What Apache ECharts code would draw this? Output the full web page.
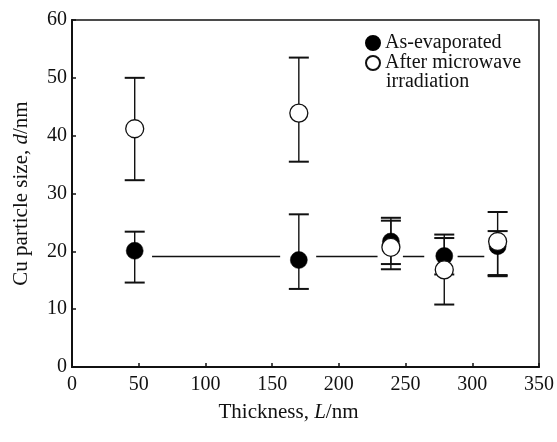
<!DOCTYPE html>
<html>
<head>
<meta charset="utf-8">
<script src="https://cdn.jsdelivr.net/npm/echarts@6/dist/echarts.min.js"></script>
<style>
html,body{margin:0;padding:0;background:#fff;}
#chart{width:557px;height:442px;}
</style>
</head>
<body>
<div id="chart"></div>
<script>
// Data
const thickness = [47, 170, 239, 279, 319];
const asEvap = [20.1, 18.5, 21.7, 19.2, 20.9];
const asEvapLow = [14.6, 13.5, 17.8, 16.0, 15.9];
const asEvapHigh = [23.4, 26.4, 25.3, 22.9, 23.5];
const afterMW = [41.2, 43.9, 20.7, 16.8, 21.7];
const afterMWLow = [32.3, 35.5, 16.9, 10.8, 15.7];
const afterMWHigh = [50.0, 53.5, 25.8, 22.3, 26.8];
const meanLineValue = 19.1;
const meanLineSegments = [[60, 156], [183, 229], [248, 264], [289, 309]];
const xTicks = [0, 50, 100, 150, 200, 250, 300, 350];
const yTicks = [0, 10, 20, 30, 40, 50, 60];

const FONT = 'Liberation Serif';
const INK = '#111';

const lineData = [];
meanLineSegments.forEach(function (s, i) {
  if (i > 0) lineData.push([s[0] - 1, '-']);
  lineData.push([s[0], meanLineValue]);
  lineData.push([s[1], meanLineValue]);
});

function errData(lo, hi) {
  return thickness.map(function (x, i) { return [x, lo[i], hi[i]]; });
}
function errRender(params, api) {
  const x = api.value(0);
  const pLo = api.coord([x, api.value(1)]);
  const pHi = api.coord([x, api.value(2)]);
  const hw = 10;
  return {
    type: 'group',
    children: [
      { type: 'line', shape: { x1: pLo[0], y1: pLo[1], x2: pHi[0], y2: pHi[1] }, style: { stroke: INK, lineWidth: 1.4 } },
      { type: 'line', shape: { x1: pLo[0] - hw, y1: pLo[1], x2: pLo[0] + hw, y2: pLo[1] }, style: { stroke: INK, lineWidth: 2 } },
      { type: 'line', shape: { x1: pHi[0] - hw, y1: pHi[1], x2: pHi[0] + hw, y2: pHi[1] }, style: { stroke: INK, lineWidth: 2 } }
    ]
  };
}

const chart = echarts.init(document.getElementById('chart'), null, { renderer: 'canvas' });
chart.setOption({
  backgroundColor: '#fff',
  animation: false,
  textStyle: { fontFamily: FONT, color: INK },
  grid: { left: 72, top: 20, right: 15, bottom: 75, show: true, borderColor: INK, borderWidth: 1.5, backgroundColor: 'transparent' },
  legend: {
    data: ['As-evaporated', 'After microwave irradiation'],
    orient: 'vertical',
    left: 365,
    top: 33,
    itemWidth: 14,
    itemHeight: 14,
    itemGap: 0,
    padding: 0,
    selectedMode: false,
    formatter: function (name) { return name === 'After microwave irradiation' ? 'After microwave' : name; },
    textStyle: { fontFamily: FONT, fontSize: 20, color: INK, lineHeight: 19 }
  },
  graphic: [
    { type: 'text', left: 386, top: 72, style: { text: 'irradiation', font: '20px "Liberation Serif"', fill: INK } }
  ],
  xAxis: {
    type: 'value',
    min: 0, max: 350, interval: 50,
    name: '{n|Thickness, }{i|L}{n|/nm}',
    nameLocation: 'middle',
    nameGap: 35,
    nameTextStyle: {
      padding: [0, 34, 0, 0],
      rich: {
        n: { fontFamily: FONT, fontSize: 21, color: INK },
        i: { fontFamily: FONT, fontSize: 21, color: INK, fontStyle: 'italic' }
      }
    },
    axisLine: { show: true, lineStyle: { color: INK, width: 2 } },
    axisTick: { show: true, inside: true, length: 4, lineStyle: { color: INK, width: 1.5 } },
    axisLabel: { fontFamily: FONT, fontSize: 20, color: INK, margin: 8,
      formatter: function (v) { return xTicks.indexOf(v) >= 0 ? String(v) : ''; } },
    splitLine: { show: false }
  },
  yAxis: {
    type: 'value',
    min: 0, max: 60, interval: 10,
    name: '{n|Cu particle size, }{i|d}{n|/nm}',
    nameLocation: 'middle',
    nameGap: 40,
    nameTextStyle: {
      rich: {
        n: { fontFamily: FONT, fontSize: 21, color: INK },
        i: { fontFamily: FONT, fontSize: 21, color: INK, fontStyle: 'italic' }
      }
    },
    axisLine: { show: true, lineStyle: { color: INK, width: 2 } },
    axisTick: { show: true, inside: true, length: 4, lineStyle: { color: INK, width: 1.5 } },
    axisLabel: { fontFamily: FONT, fontSize: 20, color: INK, margin: 5,
      formatter: function (v) { return yTicks.indexOf(v) >= 0 ? String(v) : ''; } },
    splitLine: { show: false }
  },
  series: [
    {
      name: 'mean', type: 'line', data: lineData, symbol: 'none', z: 1,
      lineStyle: { color: INK, width: 1.5 }, connectNulls: false, silent: true
    },
    { name: 'errAs', type: 'custom', renderItem: errRender, data: errData(asEvapLow, asEvapHigh), z: 1, silent: true },
    { name: 'errMW', type: 'custom', renderItem: errRender, data: errData(afterMWLow, afterMWHigh), z: 1, silent: true },
    {
      name: 'As-evaporated', type: 'scatter', z: 3,
      data: thickness.map(function (x, i) { return [x, asEvap[i]]; }),
      symbol: 'circle', symbolSize: 17,
      itemStyle: { color: '#000', borderColor: '#000', borderWidth: 0.5, opacity: 1 }
    },
    {
      name: 'After microwave irradiation', type: 'scatter', z: 4,
      data: thickness.map(function (x, i) { return [x, afterMW[i]]; }),
      symbol: 'circle', symbolSize: 18,
      itemStyle: { color: '#fff', borderColor: INK, borderWidth: 1.3, opacity: 1 }
    }
  ]
});
</script>
</body>
</html>
